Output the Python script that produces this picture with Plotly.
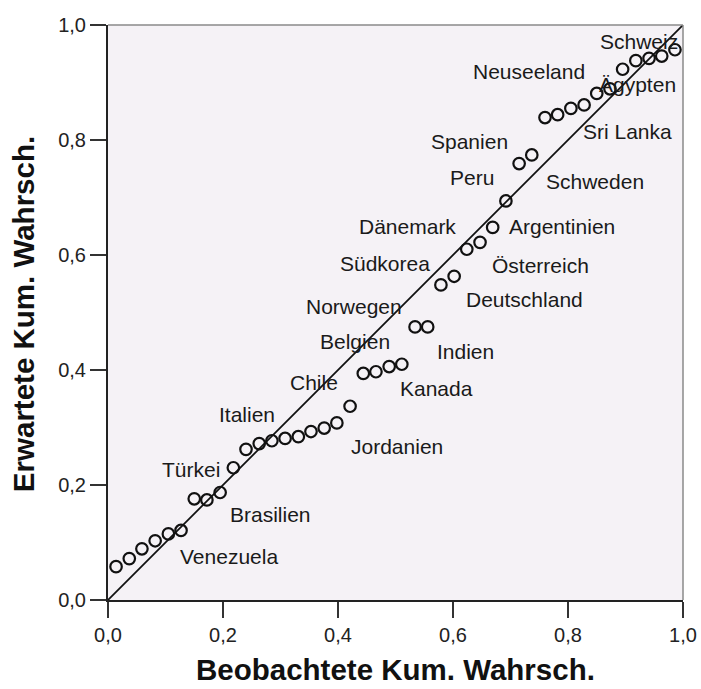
import plotly.graph_objects as go

# Observed cumulative probability (x) and expected cumulative probability (y)
observed = [0.014, 0.037, 0.059, 0.082, 0.105, 0.127, 0.150, 0.172, 0.195, 0.218,
            0.240, 0.263, 0.285, 0.308, 0.331, 0.353, 0.376, 0.398, 0.421, 0.444,
            0.466, 0.489, 0.511, 0.534, 0.556, 0.579, 0.602, 0.624, 0.647, 0.669,
            0.692, 0.715, 0.737, 0.760, 0.782, 0.805, 0.828, 0.850, 0.873, 0.895,
            0.918, 0.941, 0.963, 0.986]
expected = [0.058, 0.072, 0.089, 0.103, 0.115, 0.121, 0.176, 0.174, 0.187, 0.230,
            0.262, 0.272, 0.277, 0.281, 0.284, 0.293, 0.299, 0.308, 0.337, 0.394,
            0.397, 0.406, 0.410, 0.475, 0.475, 0.548, 0.563, 0.610, 0.622, 0.648,
            0.694, 0.759, 0.774, 0.839, 0.844, 0.855, 0.861, 0.881, 0.889, 0.923,
            0.938, 0.942, 0.946, 0.957]

# Country labels and their anchor points (data coordinates)
label_names = ["Schweiz", "Neuseeland", "Ägypten", "Sri Lanka", "Spanien", "Peru",
               "Schweden", "Argentinien", "Dänemark", "Südkorea", "Österreich",
               "Deutschland", "Norwegen", "Indien", "Belgien", "Chile", "Kanada",
               "Italien", "Jordanien", "Türkei", "Brasilien", "Venezuela"]
label_x = [0.924, 0.732, 0.920, 0.903, 0.629, 0.633, 0.847, 0.789, 0.521, 0.481,
           0.753, 0.725, 0.427, 0.622, 0.429, 0.359, 0.572, 0.241, 0.502, 0.145,
           0.283, 0.211]
label_y = [0.971, 0.920, 0.896, 0.815, 0.797, 0.734, 0.728, 0.649, 0.649, 0.586,
           0.581, 0.523, 0.511, 0.432, 0.449, 0.378, 0.368, 0.322, 0.267, 0.227,
           0.148, 0.075]

ref_line = [0.0, 1.0]
tick_vals = [0.0, 0.2, 0.4, 0.6, 0.8, 1.0]

x_title = "Beobachtete Kum. Wahrsch."
y_title = "Erwartete Kum. Wahrsch."

FONT = "Arial, 'Liberation Sans', sans-serif"

fig = go.Figure()

fig.add_trace(go.Scatter(
    x=ref_line, y=ref_line, mode="lines",
    line=dict(color="#111111", width=1.8),
    hoverinfo="skip", showlegend=False, cliponaxis=False))

fig.add_trace(go.Scatter(
    x=observed, y=expected, mode="markers",
    marker=dict(symbol="circle-open", size=11.5, color="#111111",
                line=dict(color="#111111", width=2.2)),
    showlegend=False, cliponaxis=False))

for name, lx, ly in zip(label_names, label_x, label_y):
    fig.add_annotation(x=lx, y=ly, xref="x", yref="y", text=name,
                       showarrow=False, xanchor="center", yanchor="middle",
                       font=dict(family=FONT, size=21, color="#1a1a1a"))

# axis titles
fig.add_annotation(x=0.5, y=-0.153, xref="paper", yref="paper", text=x_title,
                   showarrow=False, xanchor="center", yanchor="bottom",
                   font=dict(family=FONT, size=29.5, color="#111111", weight="bold"))
fig.add_annotation(x=-0.148, y=0.497, xref="paper", yref="paper", text=y_title,
                   showarrow=False, xanchor="center", yanchor="middle", textangle=-90,
                   font=dict(family=FONT, size=29.5, color="#111111", weight="bold"))

# top / right frame lines (gray)
fig.add_shape(type="line", xref="paper", yref="paper", x0=0, y0=1, x1=1, y1=1,
              line=dict(color="#8a8a8a", width=1.5))
fig.add_shape(type="line", xref="paper", yref="paper", x0=1, y0=0, x1=1, y1=1,
              line=dict(color="#8a8a8a", width=1.5))

axis_common = dict(
    range=[0, 1], tickvals=tick_vals, tickformat=".1f",
    ticks="outside", ticklen=16, tickwidth=2, tickcolor="#333333",
    showline=True, linecolor="#222222", linewidth=2,
    showgrid=False, zeroline=False, automargin=False,
    tickfont=dict(family=FONT, size=20, color="#222222"),
)

fig.update_xaxes(**axis_common)
fig.update_yaxes(**axis_common)

fig.update_layout(
    width=701, height=689,
    margin=dict(l=108, r=18, t=25, b=89, autoexpand=False),
    paper_bgcolor="white",
    plot_bgcolor="#f5f2f6",
    separators=",.",
    showlegend=False,
)

# remove the default page margin so the 701x689 figure fills the window exactly
fig.write_html(
    "out.html",
    config={"displayModeBar": False},
    post_script="document.body.style.margin='0';"
                "document.documentElement.style.overflow='hidden';",
)
